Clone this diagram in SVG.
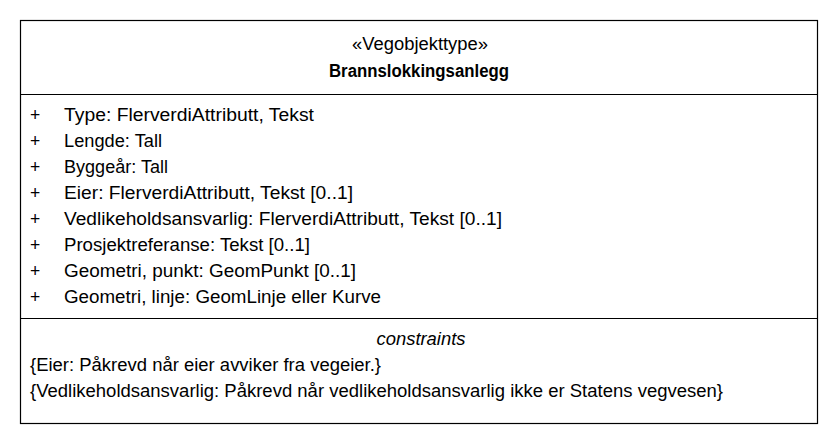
<svg xmlns="http://www.w3.org/2000/svg" width="838" height="444" viewBox="0 0 838 444">
  <style>
    .box { fill: #ffffff; stroke: #000000; stroke-width: 1.2; }
    .sep { stroke: #000000; stroke-width: 1.2; }
    .t { font-family: "Liberation Sans", Arial, sans-serif; font-size: 17.5px; fill: #000000; }
    .c { text-anchor: middle; }
    .b { font-weight: bold; }
    .i { font-style: italic; }
  </style>
  <rect width="838" height="444" fill="#ffffff"/>
  <g id="Brannslokkingsanlegg">
    <rect class="box" x="20.5" y="20.5" width="797" height="403"/>
    <line class="sep" x1="20.5" y1="94.5" x2="817.5" y2="94.5"/>
    <line class="sep" x1="20.5" y1="318.5" x2="817.5" y2="318.5"/>
    <!-- name compartment -->
    <text class="t c" x="420" y="50" textLength="136" lengthAdjust="spacingAndGlyphs">«Vegobjekttype»</text>
    <text class="t c b" x="419" y="77" textLength="180" lengthAdjust="spacingAndGlyphs">Brannslokkingsanlegg</text>
    <!-- attributes -->
    <g class="t">
      <text x="30" y="121">+</text>
      <text x="30" y="147">+</text>
      <text x="30" y="173">+</text>
      <text x="30" y="199">+</text>
      <text x="30" y="225">+</text>
      <text x="30" y="251">+</text>
      <text x="30" y="277">+</text>
      <text x="30" y="302.5">+</text>
      <text x="64" y="121" textLength="250" lengthAdjust="spacingAndGlyphs">Type: FlerverdiAttributt, Tekst</text>
      <text x="64" y="147" textLength="98" lengthAdjust="spacingAndGlyphs">Lengde: Tall</text>
      <text x="64" y="173" textLength="104" lengthAdjust="spacingAndGlyphs">Byggeår: Tall</text>
      <text x="64" y="199" textLength="289" lengthAdjust="spacingAndGlyphs">Eier: FlerverdiAttributt, Tekst [0..1]</text>
      <text x="64" y="225" textLength="438" lengthAdjust="spacingAndGlyphs">Vedlikeholdsansvarlig: FlerverdiAttributt, Tekst [0..1]</text>
      <text x="64" y="251" textLength="246" lengthAdjust="spacingAndGlyphs">Prosjektreferanse: Tekst [0..1]</text>
      <text x="64" y="277" textLength="292" lengthAdjust="spacingAndGlyphs">Geometri, punkt: GeomPunkt [0..1]</text>
      <text x="64" y="302.5" textLength="317" lengthAdjust="spacingAndGlyphs">Geometri, linje: GeomLinje eller Kurve</text>
    </g>
    <!-- constraints compartment -->
    <text class="t c i" x="421" y="345" textLength="89" lengthAdjust="spacingAndGlyphs">constraints</text>
    <text class="t" x="30" y="371" textLength="351" lengthAdjust="spacingAndGlyphs">{Eier: Påkrevd når eier avviker fra vegeier.}</text>
    <text class="t" x="30" y="397" textLength="693" lengthAdjust="spacingAndGlyphs">{Vedlikeholdsansvarlig: Påkrevd når vedlikeholdsansvarlig ikke er Statens vegvesen}</text>
  </g>
</svg>
